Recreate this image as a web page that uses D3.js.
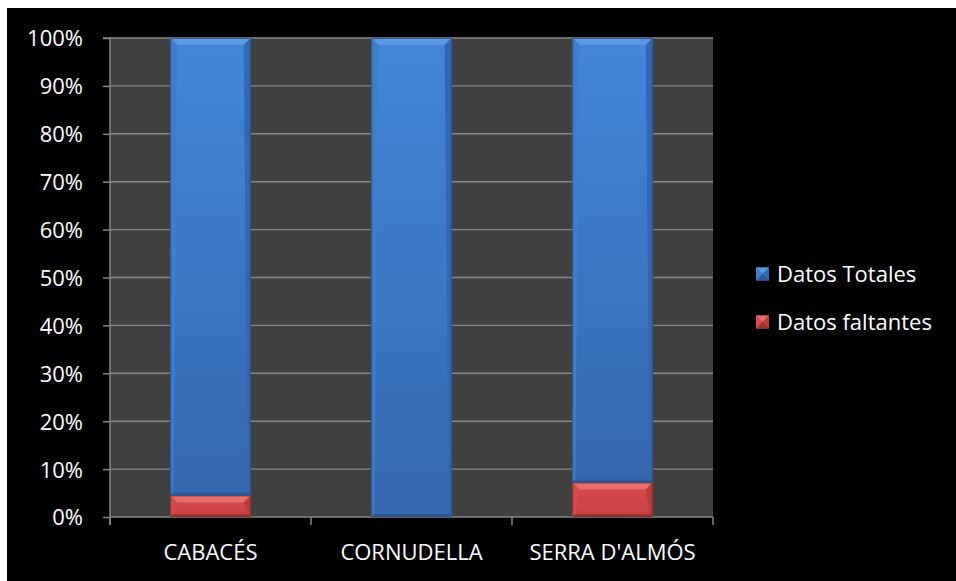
<!DOCTYPE html>
<html>
<head>
<meta charset="utf-8">
<script src="https://cdn.jsdelivr.net/npm/d3@7"></script>
<style>
  html, body { margin: 0; padding: 0; background: #ffffff; }
  svg { display: block; }
</style>
</head>
<body>
<svg id="chart" width="956" height="581"></svg>
<script>
// Share of total vs. missing data per station (stacked to 100%)
const categories = ["CABACÉS", "CORNUDELLA", "SERRA D'ALMÓS"];
const missingPct = [4.5, 0, 7.2];
const totalPct = [95.5, 100, 92.8];
const seriesNames = ["Datos Totales", "Datos faltantes"];
const yTicks = [0, 10, 20, 30, 40, 50, 60, 70, 80, 90, 100];

const svg = d3.select("#chart");
const W = 956, H = 581;
const font = "'Open Sans', Lato, sans-serif";
const fontSize = 22;

// black chart area (a thin white margin remains on the top/left)
svg.append("rect").attr("x", 7).attr("y", 8).attr("width", W - 7).attr("height", H - 8).attr("fill", "#000");

const plot = { left: 110, right: 713, top: 38, bottom: 517 };

const x = d3.scaleBand().domain(categories).range([plot.left, plot.right]).paddingInner(0.6).paddingOuter(0.3);
const y = d3.scaleLinear().domain([0, 100]).range([plot.bottom, plot.top]);

const defs = svg.append("defs");
function vGrad(id, c0, c1) {
  const g = defs.append("linearGradient").attr("id", id).attr("x1", 0).attr("y1", 0).attr("x2", 0).attr("y2", 1);
  g.append("stop").attr("offset", "0%").attr("stop-color", c0);
  g.append("stop").attr("offset", "100%").attr("stop-color", c1);
}
vGrad("blueBody", "#4386DA", "#3567AE");
vGrad("redBody", "#D64C4C", "#C84040");

// plot background
svg.append("rect")
  .attr("x", plot.left).attr("y", plot.top)
  .attr("width", plot.right - plot.left).attr("height", plot.bottom - plot.top)
  .attr("fill", "#404040");

// horizontal gridlines
svg.append("g").selectAll("line").data(yTicks.filter(d => d > 0)).join("line")
  .attr("x1", plot.left).attr("x2", plot.right)
  .attr("y1", d => y(d)).attr("y2", d => y(d))
  .attr("stroke", "#868686").attr("stroke-width", 1.4);

// y axis
const yAxis = d3.axisLeft(y).tickValues(yTicks).tickFormat(d => d + "%").tickSize(7).tickPadding(20);
const gy = svg.append("g").attr("transform", `translate(${plot.left},0)`).call(yAxis);
gy.select(".domain").attr("stroke", "#868686").attr("stroke-width", 1.5).attr("d", `M-7,${plot.top}H0V${plot.bottom + 8}`);
gy.selectAll(".tick line").attr("stroke", "#868686").attr("stroke-width", 1.5);
gy.selectAll(".tick text").attr("fill", "#fff").attr("font-family", font).attr("font-size", fontSize).attr("dy", "0.36em");

// x axis: category boundaries as ticks
const gx = svg.append("g");
gx.append("line").attr("x1", plot.left).attr("x2", plot.right)
  .attr("y1", plot.bottom).attr("y2", plot.bottom)
  .attr("stroke", "#868686").attr("stroke-width", 1.5);
const bounds = d3.range(categories.length + 1).map(i => plot.left + i * (plot.right - plot.left) / categories.length);
gx.selectAll("line.tk").data(bounds).join("line").attr("class", "tk")
  .attr("x1", d => d).attr("x2", d => d)
  .attr("y1", plot.bottom).attr("y2", plot.bottom + 8)
  .attr("stroke", "#868686").attr("stroke-width", 1.5);
gx.selectAll("text").data(categories).join("text")
  .attr("x", d => x(d) + x.bandwidth() / 2)
  .attr("y", 560)
  .attr("text-anchor", "middle")
  .attr("fill", "#fff").attr("font-family", font).attr("font-size", fontSize)
  .text(d => d);

// beveled bar segment: bright top facet, subtle side and bottom facets
function bevelRect(g, x0, y0, w, h, c) {
  if (h <= 0) return;
  const b = Math.min(7, h / 2, w / 2);
  const bs = Math.min(3, h / 2);
  const x1 = x0 + w, y1 = y0 + h;
  g.append("rect").attr("x", x0).attr("y", y0).attr("width", w).attr("height", h).attr("fill", c.body);
  const poly = (pts, fill) => g.append("polygon").attr("points", pts.map(p => p.join(",")).join(" ")).attr("fill", fill);
  poly([[x0, y0], [x1, y0], [x1 - b, y0 + b], [x0 + b, y0 + b]], c.top);
  poly([[x0, y0], [x0 + b, y0 + b], [x0 + bs, y1 - bs], [x0, y1]], c.left);
  poly([[x1, y0], [x1, y1], [x1 - bs, y1 - bs], [x1 - b, y0 + b]], c.right);
  poly([[x0, y1], [x0 + bs, y1 - bs], [x1 - bs, y1 - bs], [x1, y1]], c.bottom);
  g.append("rect").attr("x", x0 + 0.5).attr("y", y0 + 0.5).attr("width", w - 1).attr("height", h - 1)
    .attr("fill", "none").attr("stroke", c.edge).attr("stroke-width", 1).attr("stroke-opacity", 0.7);
}

const blue = { body: "url(#blueBody)", flat: "#3C78CC", top: "#5C97E4", left: "#3F7DD0", right: "#3467B2", bottom: "#2D5A9C", edge: "#27477A" };
const red = { body: "url(#redBody)", flat: "#CC4545", top: "#E86E6E", left: "#D24C4C", right: "#B83C3C", bottom: "#A23333", edge: "#7A2828" };

const bars = svg.append("g");
categories.forEach((cat, i) => {
  const bx = x(cat), bw = x.bandwidth();
  // missing data at the bottom, total stacked above
  const m = missingPct[i], t = totalPct[i];
  bevelRect(bars, bx, y(m), bw, y(0) - y(m), red);
  bevelRect(bars, bx, y(m + t), bw, y(m) - y(m + t), blue);
});

// legend
const legend = svg.append("g");
const legendItems = [{ name: seriesNames[0], c: blue, y: 274 }, { name: seriesNames[1], c: red, y: 322 }];
legendItems.forEach(it => {
  const s = 13, lx = 756, ly = it.y - s / 2;
  const c = it.c;
  legend.append("rect").attr("x", lx).attr("y", ly).attr("width", s).attr("height", s).attr("fill", c.flat);
  const poly = (pts, fill) => legend.append("polygon").attr("points", pts.map(p => p.join(",")).join(" ")).attr("fill", fill);
  const m = [lx + s / 2, ly + s / 2];
  poly([[lx, ly], [lx + s, ly], m], c.top);
  poly([[lx, ly], m, [lx, ly + s]], c.left);
  poly([[lx + s, ly], [lx + s, ly + s], m], c.right);
  poly([[lx, ly + s], m, [lx + s, ly + s]], c.bottom);
  legend.append("text").attr("x", 777).attr("y", it.y).attr("dy", "0.36em")
    .attr("fill", "#fff").attr("font-family", font).attr("font-size", fontSize).text(it.name);
});
</script>
</body>
</html>
